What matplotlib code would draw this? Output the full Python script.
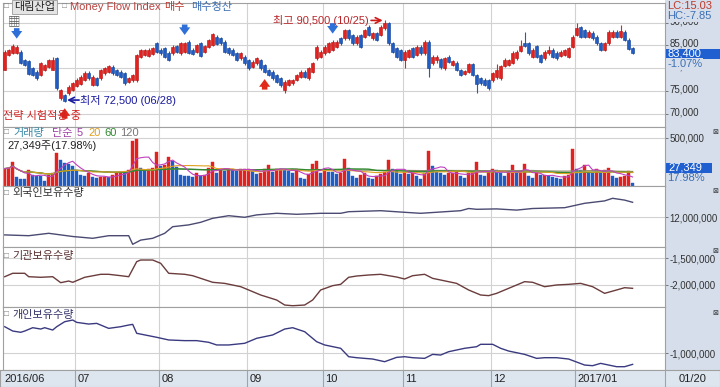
import numpy as np
import pandas as pd
import matplotlib
matplotlib.use('Agg')
import matplotlib.pyplot as plt
from matplotlib.patches import Rectangle
from matplotlib.ticker import FuncFormatter
from matplotlib.transforms import ScaledTranslation

plt.rcParams['font.family'] = ['Liberation Sans', 'Noto Sans CJK KR', 'DejaVu Sans']

# ---- daily candles (thousand won), 2016/06/07 .. 2017/01/20 ----
opens = [79.7, 82.9, 83.4, 83.4, 83.6, 81.8, 81.6, 80.0, 79.2, 78.5,
         79.6, 80.2, 79.7, 82.2, 73.4, 74.1, 74.5, 75.2, 76.1, 76.5,
         77.4, 79.0, 76.3, 77.8, 77.8, 78.9, 79.2, 80.3, 79.6, 79.2,
         78.9, 77.0, 77.3, 77.3, 82.5, 82.9, 82.7, 83.1, 85.5, 84.1,
         84.4, 83.4, 83.3, 84.9, 83.3, 83.6, 85.8, 84.1, 83.6, 85.5,
         83.6, 84.7, 85.1, 86.9, 86.6, 85.8, 84.4, 84.1, 83.3, 82.2,
         82.5, 81.8, 80.3, 81.1, 81.8, 80.7, 79.6, 79.2, 78.5, 77.8,
         75.2, 76.3, 76.7, 77.4, 78.1, 79.2, 77.8, 79.2, 82.2, 82.5,
         83.3, 83.6, 84.0, 84.7, 86.6, 86.6, 88.4, 87.3, 85.5, 87.3,
         86.9, 89.1, 86.6, 87.7, 87.3, 88.8, 89.9, 85.5, 84.4, 84.0,
         81.8, 82.5, 84.4, 82.9, 84.7, 83.3, 85.8, 81.1, 81.8, 82.0,
         80.0, 82.5, 80.7, 81.2, 79.6, 78.7, 79.2, 80.9, 78.5, 77.8,
         77.5, 77.4, 77.3, 78.1, 77.8, 80.5, 80.7, 81.2, 82.2, 83.8,
         85.5, 85.5, 82.5, 84.9, 82.9, 82.2, 83.3, 84.1, 83.4, 82.7,
         82.9, 82.5, 84.7, 87.3, 89.0, 88.4, 86.9, 87.8, 86.9, 85.5,
         84.1, 85.5, 86.9, 88.0, 86.9, 88.0, 86.3, 84.4]
closes = [83.6, 84.0, 84.9, 84.6, 81.1, 80.8, 78.7, 78.5, 77.8, 81.1,
          80.7, 81.8, 81.8, 75.6, 75.2, 72.9, 75.9, 76.7, 77.5, 78.1,
          79.0, 77.8, 78.1, 76.3, 79.6, 80.0, 80.5, 78.9, 78.5, 78.1,
          76.7, 77.8, 78.5, 82.9, 84.0, 84.0, 84.1, 84.4, 83.6, 83.3,
          82.5, 81.8, 84.7, 83.6, 85.5, 85.6, 83.4, 83.1, 85.1, 82.7,
          84.9, 86.2, 87.5, 85.3, 85.5, 83.6, 83.3, 82.9, 81.8, 83.3,
          81.1, 80.0, 81.4, 82.2, 80.0, 79.2, 78.5, 77.8, 77.0, 76.3,
          77.0, 77.4, 77.4, 78.5, 79.2, 78.1, 80.0, 81.1, 84.7, 83.6,
          84.7, 85.5, 85.8, 85.8, 85.5, 88.4, 86.6, 85.5, 86.9, 84.7,
          88.4, 87.3, 87.7, 86.2, 89.1, 90.0, 85.5, 83.6, 82.5, 81.8,
          83.6, 84.0, 82.5, 84.7, 83.3, 85.8, 80.0, 82.5, 82.5, 80.2,
          82.2, 81.4, 81.6, 79.6, 78.5, 79.4, 80.9, 78.5, 76.5, 76.7,
          76.3, 75.6, 78.9, 79.6, 80.5, 81.9, 81.8, 83.4, 83.6, 84.9,
          84.9, 83.3, 84.1, 82.5, 81.4, 83.6, 84.0, 82.5, 82.2, 83.6,
          84.0, 84.4, 86.9, 88.8, 86.9, 86.9, 88.0, 86.6, 85.5, 84.1,
          85.5, 88.0, 88.0, 86.9, 88.2, 86.2, 84.3, 83.4]
highs = [83.9, 84.3, 85.4, 85.0, 84.0, 82.0, 81.8, 80.3, 79.5, 81.4,
         81.0, 82.1, 82.4, 82.5, 75.5, 74.4, 76.2, 77.0, 77.9, 78.4,
         79.3, 79.4, 78.4, 78.1, 79.9, 80.3, 80.7, 80.6, 79.9, 79.5,
         79.2, 78.1, 78.8, 83.2, 84.3, 84.3, 84.4, 84.7, 85.8, 84.4,
         84.7, 83.7, 85.0, 85.2, 85.8, 85.8, 86.1, 84.4, 85.4, 85.8,
         85.2, 86.5, 87.8, 87.2, 86.9, 86.1, 84.7, 84.4, 83.6, 83.6,
         82.8, 82.1, 81.7, 82.5, 82.1, 81.0, 79.9, 79.5, 78.8, 78.1,
         77.3, 77.7, 77.7, 78.8, 79.5, 79.5, 80.3, 81.4, 85.0, 83.9,
         85.0, 85.8, 86.1, 86.1, 86.9, 88.7, 88.7, 87.6, 87.2, 87.6,
         88.7, 89.4, 88.0, 88.0, 89.4, 90.5, 90.2, 85.8, 84.7, 84.3,
         83.9, 84.3, 84.7, 85.0, 85.0, 86.1, 86.1, 82.8, 82.8, 82.3,
         82.5, 82.8, 81.9, 81.5, 79.9, 79.7, 81.2, 81.2, 78.8, 78.1,
         77.8, 77.7, 79.2, 81.0, 80.8, 82.2, 82.1, 83.7, 83.9, 86.2,
         88.0, 85.8, 84.4, 85.2, 83.2, 83.9, 84.8, 84.4, 83.7, 83.9,
         84.3, 84.7, 87.2, 89.9, 89.3, 88.7, 88.3, 88.1, 87.2, 85.8,
         85.8, 88.3, 88.3, 88.3, 89.5, 88.3, 86.6, 84.7]
lows = [79.5, 82.7, 83.2, 83.2, 80.9, 80.5, 78.4, 78.2, 77.5, 78.2,
        79.3, 80.0, 79.5, 75.2, 73.0, 72.5, 74.2, 75.0, 75.8, 76.2,
        77.1, 77.5, 76.0, 76.0, 77.5, 78.6, 79.0, 78.6, 78.2, 77.8,
        76.3, 76.7, 77.0, 77.0, 82.2, 82.6, 82.4, 82.8, 83.3, 83.0,
        82.2, 81.5, 83.0, 83.3, 83.0, 83.3, 83.1, 82.8, 83.3, 82.4,
        83.3, 84.4, 84.8, 85.0, 85.2, 83.3, 83.0, 82.6, 81.5, 81.9,
        80.8, 79.7, 80.0, 80.8, 79.7, 78.9, 78.2, 77.5, 76.7, 75.9,
        74.6, 76.0, 76.4, 77.1, 77.8, 77.8, 77.5, 78.9, 81.9, 82.2,
        83.0, 83.3, 83.7, 84.4, 85.2, 86.3, 86.3, 85.2, 85.2, 84.4,
        86.6, 87.0, 86.3, 85.9, 87.0, 88.5, 85.2, 83.3, 82.2, 81.5,
        80.0, 82.2, 82.2, 82.6, 83.0, 83.0, 78.1, 80.8, 81.2, 79.9,
        79.7, 81.1, 80.4, 79.3, 78.2, 78.4, 78.9, 78.2, 74.5, 76.4,
        76.0, 75.3, 77.0, 77.7, 77.5, 80.2, 80.4, 80.9, 81.9, 83.5,
        84.6, 83.0, 82.2, 82.2, 81.1, 81.9, 83.0, 82.2, 81.9, 82.4,
        82.6, 82.2, 84.4, 87.0, 86.6, 86.6, 86.6, 86.3, 85.2, 83.8,
        83.8, 85.2, 86.6, 86.6, 86.6, 85.9, 84.1, 83.1]

# daily volume (thousand shares)
volume = [180, 190, 245, 95, 75, 70, 170, 110, 108, 105,
          55, 110, 130, 345, 270, 235, 225, 205, 155, 110,
          105, 135, 95, 85, 90, 97, 90, 110, 130, 145,
          140, 170, 470, 490, 190, 170, 175, 190, 350, 210,
          215, 305, 260, 200, 110, 105, 100, 95, 130, 105,
          112, 190, 250, 135, 170, 155, 180, 170, 155, 172,
          175, 180, 155, 120, 138, 172, 215, 145, 172, 180,
          170, 155, 130, 180, 85, 75, 120, 225, 260, 135,
          172, 145, 140, 120, 130, 275, 190, 103, 85, 110,
          130, 86, 76, 103, 120, 145, 270, 172, 155, 120,
          145, 120, 138, 103, 76, 138, 360, 207, 145, 138,
          110, 130, 138, 145, 103, 86, 138, 145, 250, 110,
          103, 145, 172, 168, 130, 103, 138, 214, 138, 142,
          224, 103, 86, 130, 110, 112, 103, 97, 86, 76,
          103, 110, 380, 172, 170, 214, 145, 130, 180, 130,
          165, 190, 103, 86, 97, 103, 152.1, 27.349]

month_labels = ['2016/06', '07', '08', '09', '10', '11', '12', '2017/01']
month_start = [0, 18, 39, 61, 80, 100, 122, 143]

sell_signal = [3, 45, 82]   # 매수청산
buy_signal = [15, 65]       # 매수

# holdings (million shares), sampled on trading-day index
foreign_idx = [0, 6, 11, 17, 22, 26, 31, 32, 34, 37, 40, 42, 46, 49, 52, 56, 60, 63, 68,
               73, 79, 84, 86, 94, 100, 104, 114, 116, 118, 123, 128, 132, 140, 145, 150,
               152, 155, 157]
foreign_qty = [11.56, 11.54, 11.60, 11.52, 11.475, 11.54, 11.54, 11.325, 11.43, 11.475,
               11.60, 11.765, 11.81, 11.875, 11.975, 12.04, 12.0, 12.06, 12.10, 12.075,
               12.10, 12.10, 12.14, 12.165, 12.125, 12.10, 12.165, 12.22, 12.20, 12.21,
               12.18, 12.22, 12.24, 12.35, 12.41, 12.475, 12.43, 12.375]
inst_idx = [0, 2, 5, 6, 9, 12, 14, 16, 17, 20, 24, 26, 29, 31, 33, 34, 37, 39, 41, 45, 47,
            52, 55, 59, 61, 64, 68, 70, 72, 75, 77, 79, 82, 84, 86, 88, 91, 94, 98, 100,
            102, 105, 107, 109, 113, 116, 119, 121, 123, 126, 130, 132, 135, 138, 141,
            144, 147, 150, 153, 155, 157]
inst_qty = [-1.845, -1.781, -1.781, -1.845, -1.856, -1.845, -1.957, -1.926, -1.95, -1.856,
            -1.80, -1.80, -1.826, -1.845, -1.563, -1.532, -1.532, -1.594, -1.781, -1.80,
            -1.826, -1.95, -1.97, -2.032, -2.094, -2.188, -2.282, -2.376, -2.389, -2.376,
            -2.282, -2.094, -2.013, -1.988, -1.856, -1.832, -1.813, -1.80, -1.851, -1.888,
            -1.826, -1.80, -1.876, -1.907, -1.97, -2.094, -2.188, -2.20, -2.157, -2.063,
            -1.938, -1.95, -2.032, -2.0, -1.988, -1.97, -2.032, -2.157, -2.094, -2.051,
            -2.063]
indiv_idx = [0, 2, 4, 5, 7, 9, 10, 12, 13, 15, 17, 18, 21, 23, 26, 29, 31, 32, 33, 36, 38,
             41, 45, 48, 51, 53, 56, 60, 63, 67, 70, 72, 75, 78, 80, 84, 86, 88, 92, 95, 98,
             100, 102, 105, 107, 109, 111, 115, 118, 119, 122, 124, 126, 130, 133, 135,
             138, 141, 145, 147, 149, 153, 155, 157]
indiv_qty = [-0.601, -0.666, -0.685, -0.666, -0.616, -0.636, -0.616, -0.651, -0.601, -0.526,
             -0.501, -0.536, -0.561, -0.551, -0.626, -0.601, -0.576, -0.566, -0.70, -0.736,
             -0.76, -0.80, -0.81, -0.81, -0.835, -0.875, -0.875, -0.85, -0.775, -0.725,
             -0.636, -0.616, -0.676, -0.826, -0.875, -0.925, -1.051, -1.066, -1.086, -1.126,
             -1.061, -1.051, -1.066, -1.076, -1.016, -1.026, -0.976, -0.925, -0.901, -0.865,
             -0.865, -0.925, -0.966, -1.016, -1.076, -1.066, -1.066, -1.086, -1.176, -1.186,
             -1.151, -1.201, -1.201, -1.166]

W, H = 720, 387
RED, BLUE = '#e3211f', '#1f5cc4'
STRIP = '#d5deea'
XLIM = (-0.43, 165.1)

fig = plt.figure(figsize=(7.2, 3.87), dpi=100)
fig.add_artist(Rectangle((665 / W, 0), 55 / W, 1, transform=fig.transFigure,
                         fc=STRIP, ec='none', zorder=-5))


def ftext(x, y, s, **kw):
    kw.setdefault('fontsize', 8)
    kw.setdefault('va', 'center')
    return fig.text(x / W, 1 - y / H, s, **kw)


def panel(top, bottom):
    ax = fig.add_axes([3 / W, 1 - bottom / H, 662 / W, (bottom - top) / H])
    ax.set_xlim(*XLIM)
    ax.set_xticks([])
    for m in month_start[1:]:
        ax.axvline(m - 0.4, color='#d2d2d2', lw=0.8, zorder=0)
    ax.yaxis.tick_right()
    ax.tick_params(axis='y', length=2, width=0.6, pad=1, labelsize=7,
                   color='#666666', labelcolor='#333333')
    for s in ax.spines.values():
        s.set_color('#a0a0a0')
        s.set_linewidth(0.8)
    ax.grid(axis='y', color='#d2d2d2', lw=0.8)
    ax.set_axisbelow(True)
    return ax


x = np.arange(len(closes))
o, c, h, l = map(np.array, (opens, closes, highs, lows))
up = c >= o
ccol = np.where(up, RED, BLUE)
sig_arrow = 'simple,head_width=0.8,head_length=0.55,tail_width=0.4'

# ---------------- price ----------------
ax = panel(3, 127)
ax.set_ylim(67.08, 94.33)
ax.set_yticks([70, 75, 80, 85, 90])
ax.yaxis.set_major_formatter(FuncFormatter(lambda v, _: f'{v * 1000:,.0f}'))
lift = ScaledTranslation(0, 2.5 / 100, fig.dpi_scale_trans)
for lab in ax.get_yticklabels():
    lab.set_transform(lab.get_transform() + lift)
ax.vlines(x, l, h, colors=ccol, lw=0.8, zorder=2)
ax.bar(x, np.maximum(np.abs(c - o), 0.12), bottom=np.minimum(o, c), width=0.65,
       color=ccol, edgecolor=np.where(up, '#b01010', '#123f90'), lw=0.4, zorder=3)

for i in sell_signal:
    ax.annotate('', xy=(i, h[i] + 1.5), xytext=(i, h[i] + 3.8),
                arrowprops=dict(arrowstyle=sig_arrow, color='#2e6fd8', lw=0,
                                shrinkA=0, shrinkB=0))
for i in buy_signal:
    ax.annotate('', xy=(i, l[i] - 1.3), xytext=(i, l[i] - 3.6),
                arrowprops=dict(arrowstyle=sig_arrow, color='#e02a1a', lw=0,
                                shrinkA=0, shrinkB=0))

ihi = int(np.argmax(h))
ilo = int(np.argmin(l))
ax.annotate('', xy=(ihi - 0.5, h[ihi]), xytext=(ihi - 3.4, h[ihi]),
            arrowprops=dict(arrowstyle='->', color='#d01818', lw=1.2, shrinkA=0, shrinkB=0))
ax.text(ihi - 3.9, h[ihi] - 0.1, f'최고 {h[ihi] * 1000:,.0f} (10/25)', ha='right', va='center',
        fontsize=8, color='#b8262a')
ax.annotate('', xy=(ilo + 0.6, 73.0), xytext=(ilo + 3.6, 73.0),
            arrowprops=dict(arrowstyle='->', color='#1a1aa0', lw=1.2, shrinkA=0, shrinkB=0))
ax.text(ilo + 3.8, 73.0, f'최저 {l[ilo] * 1000:,.0f} (06/28)', ha='left', va='center',
        fontsize=8, color='#1a1aa0')

ftext(3, 116, '전략 시험적용 중', color='#d02020')
ftext(4, 7, '□', fontsize=6, color='#888888')
ftext(14, 7, '대림산업', color='#222222',
      bbox=dict(boxstyle='square,pad=0.15', fc='#e4e4e4', ec='#9a9a9a', lw=0.6))
ftext(62, 7, '□', fontsize=6, color='#888888')
ftext(70, 7, 'Money Flow Index', color='#b8433f')
ftext(164, 7, '매수', color='#c0392b')
ftext(191, 7, '매수청산', color='#3d6fb5')
ftext(8, 22, '▦', fontsize=9, color='#555555')

ftext(667, 6, 'LC:15.03', color='#c0392b')
ftext(667, 16, 'HC:-7.85', color='#3d6fb5',
      bbox=dict(boxstyle='square,pad=0.05', fc=STRIP, ec='none'))
fig.add_artist(Rectangle((666 / W, 1 - 58.5 / H), 54 / W, 9.5 / H, transform=fig.transFigure,
                         fc='#1f5fd0', ec='none', zorder=1))
ftext(668, 53.8, f'{c[-1] * 1000:,.0f}', color='white', zorder=2)
ftext(667, 64, f'{(c[-1] / c[-2] - 1) * 100:.2f}%', color='#3d6fb5',
      bbox=dict(boxstyle='square,pad=0.05', fc=STRIP, ec='none'))

# ---------------- volume ----------------
av = panel(127, 186)
vol = np.array(volume)
vcol = [RED] + [RED if vol[k] > vol[k - 1] else BLUE for k in range(1, len(vol))]
av.set_ylim(0, 610)
av.set_yticks([500])
av.yaxis.set_major_formatter(FuncFormatter(lambda v, _: f'{v * 1000:,.0f}'))
av.bar(x, vol, width=0.65, color=vcol, edgecolor=vcol, lw=0.3, zorder=2)
vs = pd.Series(vol)
ma5 = vs.rolling(5, min_periods=1).mean()
ma20 = vs.rolling(20, min_periods=1).mean()
ma60 = vs.rolling(60, min_periods=1).mean()
ma120 = vs.rolling(120, min_periods=1).mean()
av.fill_between(x, ma60, ma120, color='#c9e5c0', alpha=0.8, zorder=3, lw=0)
av.plot(x, ma120, color='#8a8a6a', lw=0.8, zorder=4)
av.plot(x, ma60, color='#2f8a2f', lw=1.0, zorder=4)
av.plot(x, ma20, color='#e0a020', lw=0.8, zorder=4)
av.plot(x, ma5, color='#c040c0', lw=0.8, zorder=4)

ftext(4, 133, '□', fontsize=6, color='#888888')
ftext(13, 133, '거래량', color='#3a8aa8')
ftext(52, 133, '단순', color='#a040a8')
ftext(77, 133, '5', color='#a040a8')
ftext(88, 133, '20', color='#e0a020')
ftext(104, 133, '60', color='#2f8a2f')
ftext(120, 133, '120', color='#777777')
ftext(7, 146, f'{vol[-1] * 1000:,.0f}주({vol[-1] / vol[-2] * 100:.2f}%)', color='#222222')
fig.add_artist(Rectangle((666 / W, 1 - 173 / H), 46 / W, 10 / H, transform=fig.transFigure,
                         fc='#1f5fd0', ec='none', zorder=1))
ftext(668, 168, f'{vol[-1] * 1000:,.0f}', color='white', zorder=2)
ftext(667, 178, f'{vol[-1] / vol[-2] * 100:.2f}%', color='#3d6fb5')

# ---------------- holdings ----------------
fmt_m = FuncFormatter(lambda v, _: f'{v * 1e6:,.0f}')

af = panel(186, 247)
af.set_ylim(11.2575, 12.7825)
af.set_yticks([12.0])
af.yaxis.set_major_formatter(fmt_m)
af.plot(foreign_idx, foreign_qty, color='#4a4a72', lw=1.0)
ftext(4, 193, '□', fontsize=6, color='#888888')
ftext(12, 193, '외국인보유수량', color='#333333')

ai = panel(247, 307)
ai.set_ylim(-2.413, -1.288)
ai.set_yticks([-1.5, -2.0])
ai.yaxis.set_major_formatter(fmt_m)
ai.plot(inst_idx, inst_qty, color='#6a3c3c', lw=1.0)
ftext(4, 256, '□', fontsize=6, color='#888888')
ftext(12, 256, '기관보유수량', color='#5a3030')

an = panel(307, 370)
an.set_ylim(-1.2505, -0.3055)
an.set_yticks([-1.0])
an.yaxis.set_major_formatter(fmt_m)
an.plot(indiv_idx, indiv_qty, color='#3a3a80', lw=1.0)
ftext(4, 315, '□', fontsize=6, color='#888888')
ftext(12, 315, '개인보유수량', color='#33336a')

for yy in (132, 191, 251, 313):
    ftext(712, yy, '⊠', fontsize=5, color='#333333', family='DejaVu Sans')

# ---------------- date strip ----------------
ad = fig.add_axes([0, 0, 1, 17 / H])
ad.set_xlim(XLIM[0] - 3 * 165.53 / 662, XLIM[0] + 717 * 165.53 / 662)
ad.set_ylim(0, 1)
ad.set_facecolor('#dde5ef')
ad.set_xticks([])
ad.set_yticks([])
for s in ad.spines.values():
    s.set_color('#a0a0a0')
    s.set_linewidth(0.8)
for m, lab in zip(month_start, month_labels):
    if m > 0:
        ad.axvline(m - 0.4, color='#9aa4b2', lw=0.8)
    ad.text(m + (0.0 if m == 0 else 0.2), 0.45, lab, ha='left', va='center',
            fontsize=8, color='#222222')
ad.axvline(XLIM[1], color='#9aa4b2', lw=0.8)
ad.text(XLIM[1] + 3.5, 0.45, '01/20', ha='left', va='center', fontsize=8, color='#222222')

fig.savefig('out.png', dpi=100)
